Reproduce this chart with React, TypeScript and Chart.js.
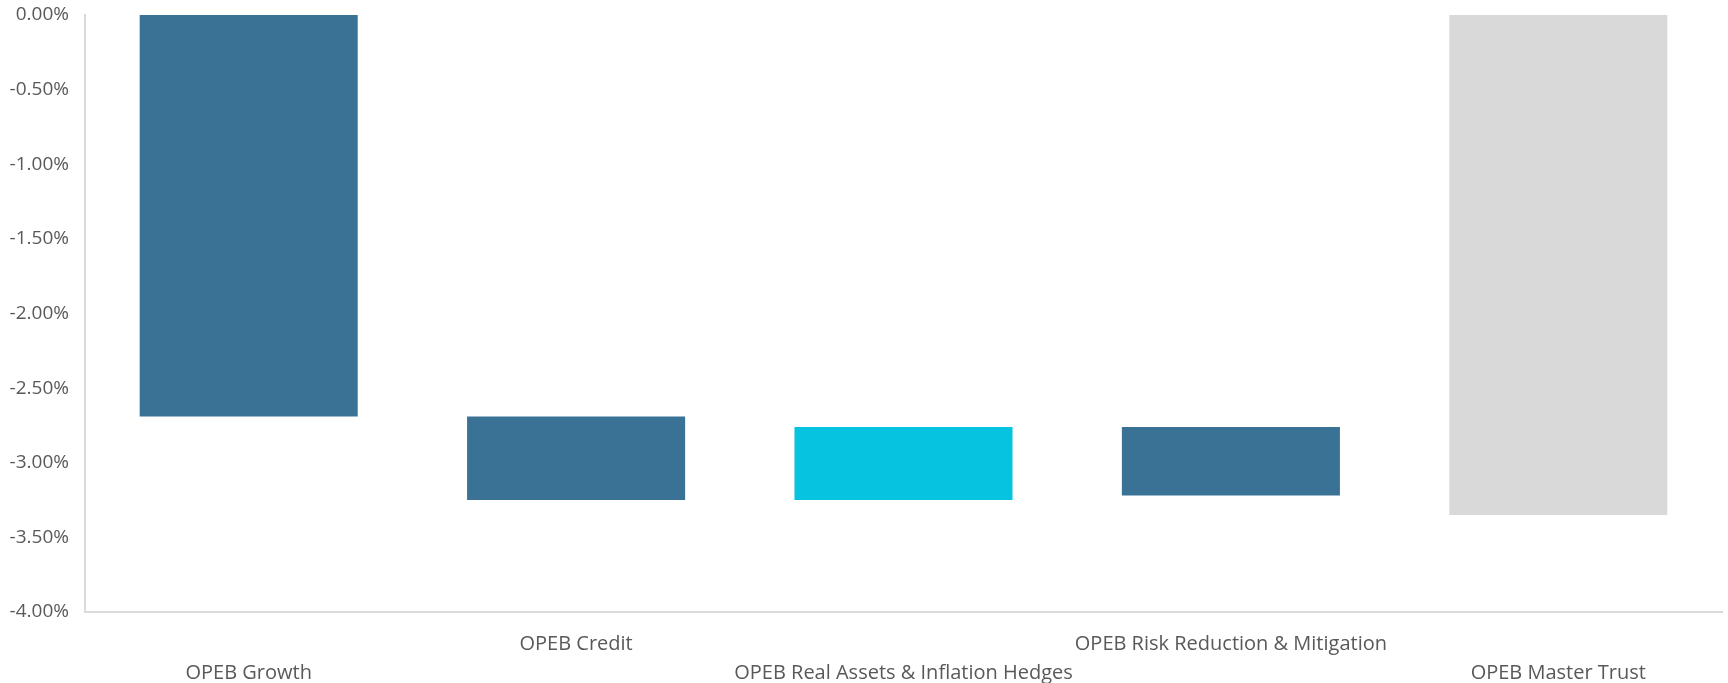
import React, { useEffect, useRef } from "react";
import { Chart, registerables } from "chart.js";

Chart.register(...registerables);

const categories = [
  "OPEB Growth",
  "OPEB Credit",
  "OPEB Real Assets & Inflation Hedges",
  "OPEB Risk Reduction & Mitigation",
  "OPEB Master Trust",
];
const barStart = [0, -2.69, -2.76, -2.76, 0];
const barEnd = [-2.69, -3.25, -3.25, -3.22, -3.35];
const barColors = ["#3A7296", "#3A7296", "#06C3DF", "#3A7296", "#D9D9D9"];
const yMin = -4;
const yMax = 0;
const yStep = 0.5;

export default function App() {
  const ref = useRef<HTMLCanvasElement | null>(null);

  useEffect(() => {
    document.body.style.margin = "0";
    if (!ref.current) return;
    const labels = categories.map((c, i) => (i % 2 === 0 ? ["", c] : [c]));
    const chart = new Chart(ref.current, {
      type: "bar",
      data: {
        labels,
        datasets: [
          {
            data: categories.map((_, i) => [barStart[i], barEnd[i]]) as any,
            backgroundColor: barColors,
            borderWidth: 0,
            categoryPercentage: 1,
            barPercentage: 0.666,
          },
        ],
      },
      options: {
        animation: false,
        responsive: true,
        maintainAspectRatio: false,
        layout: { padding: { top: 15, right: 6, bottom: 0, left: 0 } },
        plugins: { legend: { display: false }, tooltip: { enabled: false } },
        scales: {
          x: {
            grid: { display: false, drawTicks: false },
            border: { display: true, color: "#D9D9D9", width: 2 },
            ticks: {
              color: "#595959",
              font: { family: "'Open Sans', sans-serif", size: 20, lineHeight: 1.45 },
              padding: 18,
              maxRotation: 0,
              autoSkip: false,
            },
            afterFit: (s: any) => {
              s.height = 71;
            },
          },
          y: {
            min: yMin,
            max: yMax,
            grid: { display: false, drawTicks: false },
            border: { display: true, color: "#D9D9D9", width: 2 },
            ticks: {
              stepSize: yStep,
              color: "#595959",
              font: { family: "'Open Sans', sans-serif", size: 19 },
              padding: 16,
              callback: (v: any) => Number(v).toFixed(2) + "%",
            },
            afterFit: (s: any) => {
              s.width = 85;
              s.paddingTop = 12;
              s.paddingBottom = 12;
            },
          },
        },
      },
    });
    return () => chart.destroy();
  }, []);

  return (
    <div style={{ position: "relative", width: 1728, height: 683 }}>
      <canvas ref={ref} />
    </div>
  );
}
